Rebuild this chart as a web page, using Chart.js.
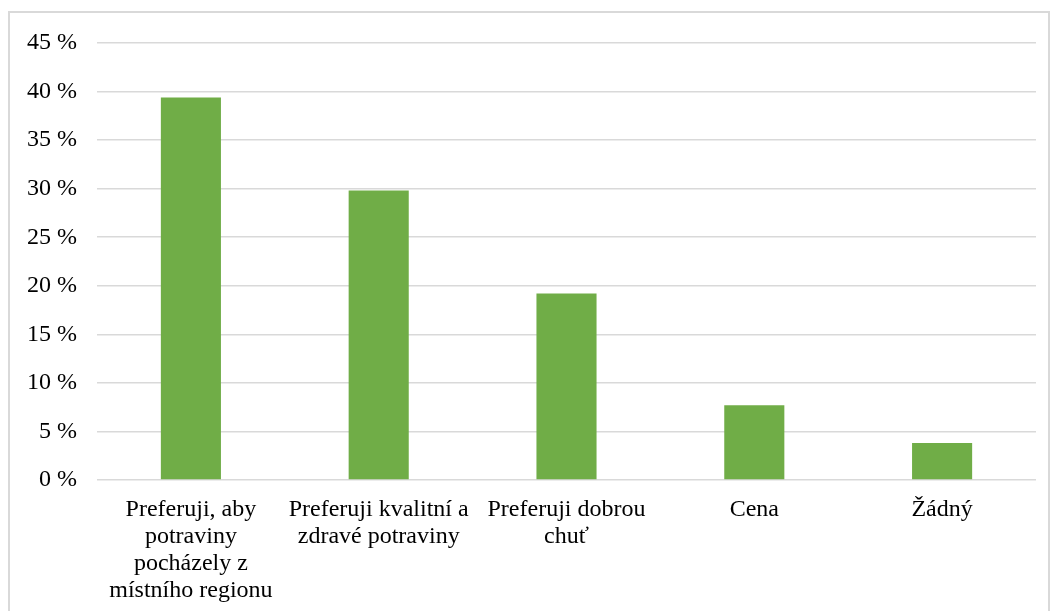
<!DOCTYPE html>
<html>
<head>
<meta charset="utf-8">
<script src="https://cdn.jsdelivr.net/npm/chart.js@4/dist/chart.umd.min.js"></script>
<style>
  html, body { margin: 0; padding: 0; background: #fff; overflow: hidden; }
  #frame { position: absolute; left: 8px; top: 11px; width: 1038px; height: 640px; border: 2px solid #d9d9d9; }
  #wrap { position: absolute; left: 0; top: 0; width: 1057px; height: 611px; }
  #probe { position: absolute; left: -999px; top: 0; font-family: 'Liberation Serif'; font-size: 24px; }
</style>
</head>
<body>
<div id="probe">Preferuji 45 %</div>
<div id="frame"></div>
<div id="wrap"><canvas id="prefChart"></canvas></div>
<script>
    // categories (multi-line labels as in the source)
    const categories = [
        ['Preferuji, aby', 'potraviny', 'pocházely z', 'místního regionu'],
        ['Preferuji kvalitní a', 'zdravé potraviny'],
        ['Preferuji dobrou', 'chuť'],
        'Cena',
        'Žádný'
    ];
    const shares = [39.4, 29.8, 19.2, 7.7, 3.8];
    const yTicks = [0, 5, 10, 15, 20, 25, 30, 35, 40, 45];

    const serif = '"Liberation Serif", "Times New Roman", serif';

    function drawChart() {
        const ctx = document.getElementById('prefChart').getContext('2d');
        new Chart(ctx, {
            type: 'bar',
            data: {
                labels: categories,
                datasets: [{
                    data: shares,
                    backgroundColor: '#70ad47',
                    borderWidth: 0,
                    categoryPercentage: 1,
                    barPercentage: 0.32
                }]
            },
            options: {
                responsive: true,
                maintainAspectRatio: false,
                animation: false,
                layout: { padding: { left: 0, right: 21, top: 43, bottom: 0 } },
                plugins: {
                    legend: { display: false },
                    tooltip: { enabled: false }
                },
                scales: {
                    x: {
                        grid: { display: false },
                        border: { display: false },
                        ticks: {
                            color: '#000',
                            font: { family: serif, size: 24, lineHeight: 1.13 },
                            padding: 8,
                            maxRotation: 0,
                            autoSkip: false
                        },
                        afterFit: function(scale) { scale.height = 131; }
                    },
                    y: {
                        min: 0,
                        max: 45,
                        afterBuildTicks: function(scale) {
                            scale.ticks = yTicks.map(v => ({ value: v }));
                        },
                        grid: { color: '#d9d9d9', lineWidth: 1.5, drawTicks: false },
                        border: { display: false },
                        ticks: {
                            color: '#000',
                            font: { family: serif, size: 24 },
                            padding: 20,
                            callback: function(v) { return v + ' %'; }
                        },
                        afterFit: function(scale) { scale.width = 97; }
                    }
                }
            }
        });
    }

    document.fonts.load('24px "Liberation Serif"').then(drawChart, drawChart);
</script>
</body>
</html>
